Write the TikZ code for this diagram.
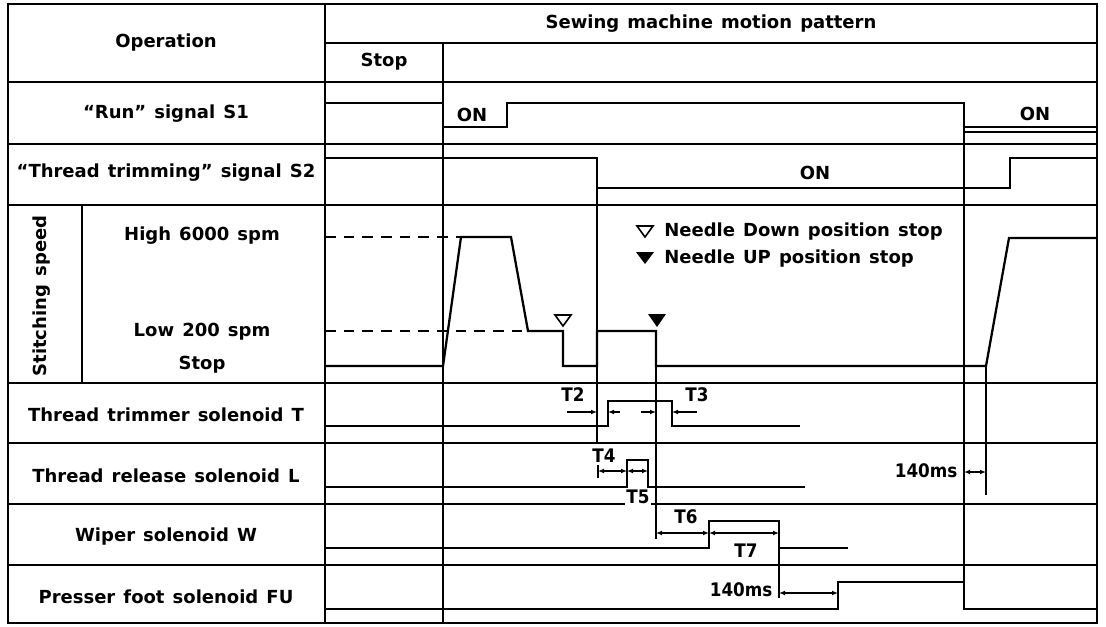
\documentclass[tikz,border=0pt]{standalone}
\usepackage{fontspec}
\setmainfont{DejaVu Sans}
\newfontfamily\condfont{DejaVu Sans Condensed}
\usetikzlibrary{arrows.meta}
\newcommand\lblfont{\fontsize{13.5}{15}\selectfont\bfseries\spaceskip 0.45em plus 0.1em\relax}
\newcommand\tfont{\condfont\fontsize{14}{16}\selectfont\bfseries}

\begin{document}
\begin{tikzpicture}[x=0.75pt, y=-0.75pt, >={Latex[length=4.5pt,width=3.6pt]},
  frame/.style={line width=1.4pt},
  wave/.style={line width=1.7pt, line join=miter},
  guide/.style={line width=1.4pt},
  level/.style={line width=1.2pt, dash pattern=on 8pt off 6pt},
  dimline/.style={line width=0.9pt},
  lbl/.style={font=\lblfont, inner sep=0pt},
  tmark/.style={font=\tfont, inner sep=1pt}]
  \useasboundingbox (0,0) rectangle (1106,626);

  % table grid
  \draw[frame] (8,4) rectangle (1097,623);
  \draw[frame] (325,4) -- (325,623);
  \draw[frame] (443,43) -- (443,623);
  \draw[frame] (325,43) -- (1097,43);
  \foreach \y in {82,144,205,383,443,504,565}
    \draw[frame] (8,\y) -- (1097,\y);
  \draw[frame] (82,205) -- (82,383);

  % headings and row labels
  \node[lbl] (oper) at (166,43) {Operation};
  \node[lbl] (pattern) at (711,24) {Sewing machine motion pattern};
  \node[lbl] (stophd) at (384,62) {Stop};
  \node[lbl] (runsig) at (166,114) {“Run” signal S1};
  \node[lbl] (trimsig) at (166,173) {“Thread trimming” signal S2};
  \node[lbl, rotate=90] (speed) at (42,296) {Stitching speed};
  \node[lbl] (high) at (202,236) {High 6000 spm};
  \node[lbl] (low) at (202,332) {Low 200 spm};
  \node[lbl] (stopspd) at (202,365) {Stop};
  \node[lbl] (solT) at (166,415) {Thread trimmer solenoid T};
  \node[lbl] (solL) at (166,476) {Thread release solenoid L};
  \node[lbl] (solW) at (166,537) {Wiper solenoid W};
  \node[lbl] (solFU) at (166,597) {Presser foot solenoid FU};

  % S1 and S2
  \draw[wave] (325,103) -- (443,103) -- (443,127) -- (507,127) -- (507,103)
    -- (964,103) -- (964,127) -- (1097,127);
  \draw[dimline] (964,132) -- (1097,132);
  \node[lbl] (on1) at (472,115) {ON};
  \node[lbl] (on2) at (1035,114) {ON};
  \draw[wave] (325,158) -- (597,158) -- (597,188) -- (1010,188) -- (1010,158) -- (1097,158);
  \node[lbl] (on3) at (815,173) {ON};

  % stitching speed
  \draw[level] (325,237) -- (461,237);
  \draw[level] (325,331) -- (528,331);
  \draw[wave] (325,366) -- (443,366) -- (461,237) -- (511,237) -- (528,331) -- (563,331)
    -- (563,366) -- (597,366) -- (597,331) -- (656,331) -- (656,366) -- (986,366)
    -- (1009,238) -- (1097,238);
  \draw[line width=1.2pt] (555,315) -- (571,315) -- (563,326) -- cycle;
  \fill (648,314) -- (666,314) -- (657,327) -- cycle;

  % legend
  \draw[line width=1.2pt] (637,226) -- (653,226) -- (645,237) -- cycle;
  \fill (636,252) -- (654,252) -- (645,264) -- cycle;
  \node[lbl, anchor=west] (dnstop) at (664,232) {Needle Down position stop};
  \node[lbl, anchor=west] (upstop) at (664,259) {Needle UP position stop};

  % timing guides
  \draw[guide] (597,188) -- (597,443);
  \draw[guide] (656,331) -- (656,539);
  \draw[guide] (779,521) -- (779,598);
  \draw[guide] (964,127) -- (964,582);
  \draw[guide] (986,366) -- (986,495);

  % solenoids
  \draw[wave] (325,426) -- (608,426) -- (608,401) -- (672,401) -- (672,426) -- (800,426);
  \draw[wave] (325,487) -- (627,487) -- (627,460) -- (648,460) -- (648,487) -- (805,487);
  \draw[wave] (325,548) -- (709,548) -- (709,521) -- (779,521) -- (779,548) -- (848,548);
  \draw[wave] (325,609) -- (838,609) -- (838,582) -- (964,582) -- (964,609) -- (1097,609);

  % delays
  \draw[dimline, ->] (567,412) -- (597,412);
  \draw[dimline, ->] (620,412) -- (608,412);
  \node[tmark] (t2) at (573,395) {T2};
  \draw[dimline, ->] (641,412) -- (656,412);
  \draw[dimline, ->] (697,412) -- (672,412);
  \node[tmark] (t3) at (697,395) {T3};
  \draw[dimline] (598,465) -- (598,478);
  \draw[dimline, <->] (598,471) -- (627,471);
  \draw[dimline, <->] (627,471) -- (648,471);
  \node[tmark] (t4) at (604,456) {T4};
  \node[tmark, fill=white] (t5) at (638,497) {T5};
  \draw[dimline, <->] (656,533) -- (709,533);
  \draw[dimline, <->] (709,533) -- (779,533);
  \node[tmark] (t6) at (686,517) {T6};
  \node[tmark] (t7) at (746,551) {T7};
  \draw[dimline, <->] (779,593) -- (838,593);
  \node[tmark, anchor=east] (ms1) at (774,590) {140ms};
  \draw[dimline, <->] (964,472) -- (986,472);
  \node[tmark, anchor=east] (ms2) at (959,471) {140ms};
\end{tikzpicture}
\end{document}
